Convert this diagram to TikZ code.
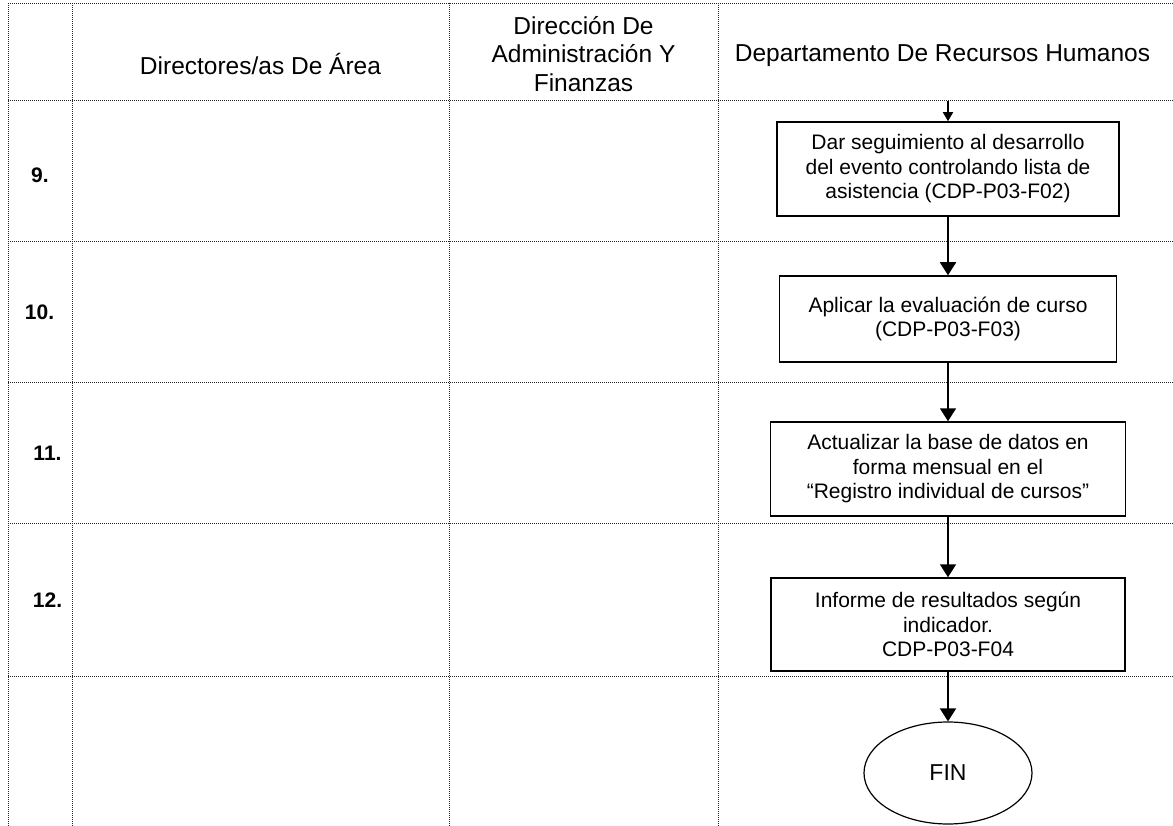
\documentclass[tikz,border=0pt]{standalone}
\usepackage{fontspec}
\setmainfont{Liberation Sans}
\usetikzlibrary{arrows.meta, shapes.geometric}

\begin{document}
\begin{tikzpicture}[x=1pt, y=-1pt,
	grid/.style={line width=0.8pt, dash pattern=on 1pt off 1pt, black!85},
	paso/.style={draw, line width=1.5pt, align=center, inner sep=0pt, font=\fontsize{21}{24.5}\selectfont},
	flecha/.style={line width=1.8pt, -{Triangle[width=16pt, length=13pt]}},
	head/.style={align=center, inner sep=0pt, font=\fontsize{24.5}{28.5}\selectfont},
	num/.style={inner sep=0pt, font=\bfseries\fontsize{21}{24}\selectfont}]

	\useasboundingbox (0,0) rectangle (1173,826);

	\def\xflujo{948}

	% tabla
	\foreach \xcol in {8, 72, 449, 718}
		\draw[grid] (\xcol, 3) -- (\xcol, 826);
	\foreach \yrow in {3, 100, 241, 382, 523, 676}
		\draw[grid] (8, \yrow) -- (1173, \yrow);

	% encabezados
	\node[head, anchor=base] (areas) at (260.5, 75) {Directores/as De Área};
	\node[head] (finanzas) at (583.5, 54) {Dirección De\\Administración Y\\Finanzas};
	\node[head, anchor=base] (rrhh) at (942.5, 62) {Departamento De Recursos Humanos};

	% numeros de paso
	\node[num] (n9) at (40, 175) {9.};
	\node[num] (n10) at (39.5, 312) {10.};
	\node[num] (n11) at (47.5, 453) {11.};
	\node[num] (n12) at (47.5, 600) {12.};

	% pasos
	\node[paso, minimum width=342pt, minimum height=94pt] (seguimiento) at (\xflujo, 169)
		{Dar seguimiento al desarrollo\\del evento controlando lista de\\asistencia (CDP-P03-F02)};
	\node[paso, minimum width=337pt, minimum height=86pt] (evaluacion) at (\xflujo, 319)
		{Aplicar la evaluación de curso\\(CDP-P03-F03)};
	\node[paso, minimum width=355pt, minimum height=94pt] (registro) at (\xflujo, 469)
		{Actualizar la base de datos en\\forma mensual en el\\“Registro individual de cursos”};
	\node[paso, minimum width=354pt, minimum height=93pt] (informe) at (\xflujo, 624.5)
		{Informe de resultados según\\indicador.\\CDP-P03-F04};
	\node[draw, ellipse, line width=1.2pt, minimum width=168pt, minimum height=102pt,
		font=\fontsize{23}{26}\selectfont] (fin) at (\xflujo, 773) {FIN};

	\coordinate (entrada) at (\xflujo, 101);

	\draw[line width=1.5pt, -{Triangle[width=10pt, length=9pt]}] (entrada) -- (seguimiento);
	\draw[flecha] (seguimiento) -- (evaluacion);
	\draw[flecha] (evaluacion) -- (registro);
	\draw[flecha] (registro) -- (informe);
	\draw[flecha] (informe) -- (fin);

\end{tikzpicture}
\end{document}
